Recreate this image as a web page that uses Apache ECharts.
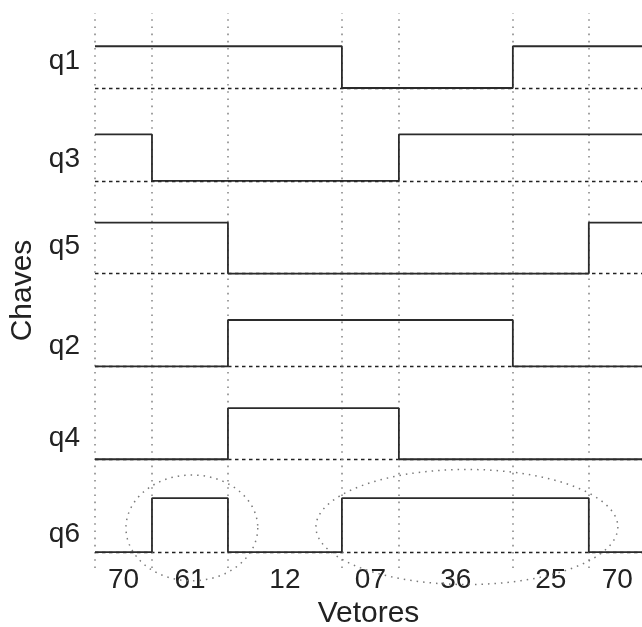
<!DOCTYPE html>
<html>
<head>
<meta charset="utf-8">
<script src="https://cdn.jsdelivr.net/npm/echarts@6/dist/echarts.min.js"></script>
<style>
html,body{margin:0;padding:0;background:#fff;}
#chart{width:642px;height:627px;}
</style>
</head>
<body>
<div id="chart"></div>
<script>
// ---- data ----
var switchNames = ['q1', 'q3', 'q5', 'q2', 'q4', 'q6'];
var baselines   = [5, 4, 3, 2, 1, 0];
var amplitudes  = [0.45, 0.50, 0.55, 0.50, 0.55, 0.58];
var yLabelTicks = [5.29, 4.23, 3.29, 2.22, 1.23, 0.19];
var boundaries  = [0, 3, 7, 13, 16, 22, 26, 29];
var vectorLabels = ['70', '61', '12', '07', '36', '25', '70'];
var q1 = [1, 1, 1, 0, 0, 1, 1];
var q3 = [1, 0, 0, 0, 1, 1, 1];
var q5 = [1, 1, 0, 0, 0, 0, 1];
var q2 = [0, 0, 1, 1, 1, 0, 0];
var q4 = [0, 0, 1, 1, 0, 0, 0];
var q6 = [0, 1, 0, 1, 1, 1, 0];
var states = [q1, q3, q5, q2, q4, q6];
// annotation ellipses [cx, cy, rx, ry] in data units
var ellipses = [[5.1, 0.26, 3.47, 0.57], [19.58, 0.27, 7.95, 0.62]];

var FONT = '"Liberation Sans", Arial, sans-serif';
var chart = echarts.init(document.getElementById('chart'));

var labelCenters = [];
for (var i = 0; i < vectorLabels.length; i++) {
  labelCenters.push((boundaries[i] + boundaries[i + 1]) / 2);
}
function nearest(arr, names, v) {
  var best = 0, bd = Infinity;
  for (var i = 0; i < arr.length; i++) {
    var d = Math.abs(arr[i] - v);
    if (d < bd) { bd = d; best = i; }
  }
  return bd < 0.05 ? names[best] : '';
}

var series = [];
states.forEach(function (st, k) {
  var pts = [];
  for (var i = 0; i < st.length; i++) {
    pts.push([boundaries[i], baselines[k] + st[i] * amplitudes[k]]);
  }
  pts.push([boundaries[boundaries.length - 1], baselines[k] + st[st.length - 1] * amplitudes[k]]);
  var s = {
    type: 'line',
    name: switchNames[k],
    step: 'end',
    data: pts,
    symbol: 'none',
    z: 5,
    lineStyle: { color: '#2b2b2b', width: 1.8 }
  };
  if (k === 0) {
    s.markLine = {
      silent: true,
      symbol: ['none', 'none'],
      label: { show: false },
      z: 2,
      data: []
    };
    baselines.forEach(function (b) {
      s.markLine.data.push({ yAxis: b, lineStyle: { color: '#222', width: 1.3, type: [3.5, 3.5] } });
    });
    boundaries.slice(0, boundaries.length - 1).forEach(function (b) {
      s.markLine.data.push({ xAxis: b, lineStyle: { color: '#8a8a8a', width: 1.6, type: [1.6, 5.6] } });
    });
  }
  series.push(s);
});

series.push({
  type: 'custom',
  data: ellipses,
  silent: true,
  z: 4,
  renderItem: function (params, api) {
    var c = api.coord([api.value(0), api.value(1)]);
    var sz = api.size([api.value(2), api.value(3)]);
    var pts = [];
    var n = 120;
    for (var i = 0; i <= n; i++) {
      var a = i / n * Math.PI * 2;
      pts.push([c[0] + sz[0] * Math.cos(a), c[1] + sz[1] * Math.sin(a)]);
    }
    return {
      type: 'polyline',
      shape: { points: pts },
      style: { fill: null, stroke: '#7a7a7a', lineWidth: 1.5, lineDash: [1.5, 5] }
    };
  }
});

chart.setOption({
  animation: false,
  backgroundColor: '#fff',
  grid: { left: 95, right: 0, top: 13, bottom: 59, outerBoundsMode: 'none', containLabel: false },
  xAxis: {
    type: 'value',
    min: 0,
    max: 28.8,
    name: 'Vetores',
    nameLocation: 'middle',
    nameGap: 22,
    nameTextStyle: { fontFamily: FONT, fontSize: 30, color: '#222' },
    axisLine: { show: false },
    axisTick: { show: false, customValues: labelCenters },
    splitLine: { show: false },
    axisLabel: {
      show: true,
      customValues: labelCenters,
      showMinLabel: true,
      showMaxLabel: true,
      hideOverlap: false,
      margin: -2,
      fontFamily: FONT,
      fontSize: 28,
      color: '#222',
      formatter: function (v) { return nearest(labelCenters, vectorLabels, v); }
    }
  },
  yAxis: {
    type: 'value',
    min: -0.172,
    max: 5.808,
    name: 'Chaves',
    nameLocation: 'middle',
    nameGap: 50,
    nameTextStyle: { fontFamily: FONT, fontSize: 30, color: '#222' },
    axisLine: { show: false },
    axisTick: { show: false, customValues: yLabelTicks },
    splitLine: { show: false },
    axisLabel: {
      show: true,
      customValues: yLabelTicks,
      showMinLabel: true,
      showMaxLabel: true,
      hideOverlap: false,
      margin: 15,
      fontFamily: FONT,
      fontSize: 28,
      color: '#222',
      formatter: function (v) { return nearest(yLabelTicks, switchNames, v); }
    }
  },
  series: series
});
</script>
</body>
</html>
